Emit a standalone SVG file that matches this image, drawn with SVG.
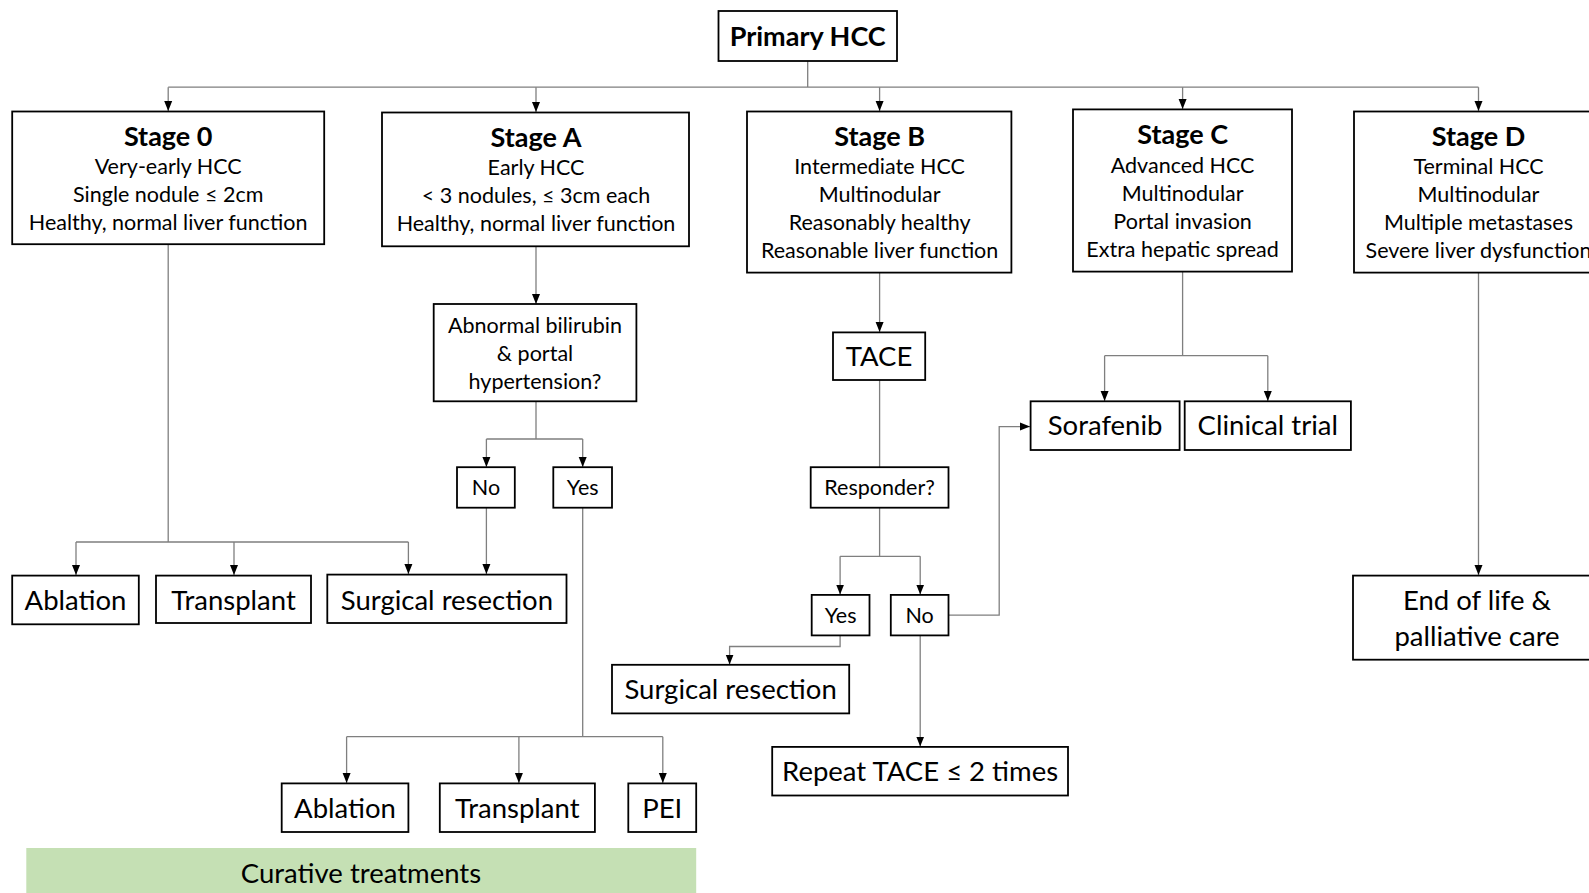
<svg xmlns="http://www.w3.org/2000/svg" width="1589" height="893" viewBox="0 0 1589 893">
<defs>
<marker id="ah" markerUnits="userSpaceOnUse" markerWidth="11" markerHeight="11" refX="10" refY="5.5" orient="auto">
<path d="M0,1.5 L10,5.5 L0,9.5 Z" fill="#000"/>
</marker>
<style>
.box{fill:#fff;stroke:#000;stroke-width:1.8}
.t{font-family:Lato,"Open Sans","Liberation Sans",sans-serif;fill:#000;text-anchor:middle}
.s{font-size:21.5px}
.m{font-size:27.5px}
.h{font-size:27px;font-weight:bold}
.c{fill:none;stroke:#7f7f7f;stroke-width:1.3}
.a{marker-end:url(#ah)}
</style>
</defs>
<rect width="1589" height="893" fill="#fff"/>
<g id="connectors">
<path class="c" d="M807.7,61 V87.2 M168.2,87.2 H1478.5"/>
<path class="c a" d="M168.2,87.2 V111"/>
<path class="c a" d="M536,87.2 V112"/>
<path class="c a" d="M879.6,87.2 V111"/>
<path class="c a" d="M1182.6,87.2 V109"/>
<path class="c a" d="M1478.5,87.2 V111"/>
<path class="c" d="M168.2,244 V542 M76,542 H408.4"/>
<path class="c a" d="M76,542 V575"/>
<path class="c a" d="M234,542 V575"/>
<path class="c a" d="M408.4,542 V574"/>
<path class="c a" d="M536,246 V304"/>
<path class="c" d="M536,401 V439 M486.4,439 H582.7"/>
<path class="c a" d="M486.4,439 V467"/>
<path class="c a" d="M582.7,439 V467"/>
<path class="c a" d="M486.4,508 V574"/>
<path class="c" d="M582.7,508 V736.7 M346.6,736.7 H662.8"/>
<path class="c a" d="M346.6,736.7 V783"/>
<path class="c a" d="M518.9,736.7 V783"/>
<path class="c a" d="M662.8,736.7 V783"/>
<path class="c a" d="M879.6,272.6 V332"/>
<path class="c" d="M879.6,380 V467 M879.6,508 V556.3 M840.1,556.3 H920.2"/>
<path class="c a" d="M840.1,556.3 V594.5"/>
<path class="c a" d="M920.2,556.3 V594.5"/>
<path class="c a" d="M948.5,615.1 H999.2 V426.6 H1030"/>
<path class="c a" d="M840.1,635.4 V646.5 H729.6 V664.5"/>
<path class="c a" d="M920.2,635.4 V746.5"/>
<path class="c" d="M1182.6,271.6 V355.7 M1104.6,355.7 H1267.8"/>
<path class="c a" d="M1104.6,355.7 V401"/>
<path class="c a" d="M1267.8,355.7 V401"/>
<path class="c a" d="M1478.5,272.6 V575"/>
</g>
<g id="primary">
<rect class="box" x="718.5" y="11" width="178.5" height="50"/>
<text class="t h" x="807.7" y="46">Primary HCC</text>
</g>
<g id="stage0">
<rect class="box" x="12.2" y="111.5" width="312" height="132.7"/>
<text class="t h" x="168.2" y="146">Stage 0</text>
<text class="t s" x="168.2" y="174">Very-early HCC</text>
<text class="t s" x="168.2" y="202">Single nodule ≤ 2cm</text>
<text class="t s" x="168.2" y="230">Healthy, normal liver function</text>
</g>
<g id="stageA">
<rect class="box" x="382" y="112.5" width="307" height="133.8"/>
<text class="t h" x="536" y="147">Stage A</text>
<text class="t s" x="536" y="175">Early HCC</text>
<text class="t s" x="536" y="203">&lt; 3 nodules, ≤ 3cm each</text>
<text class="t s" x="536" y="231">Healthy, normal liver function</text>
</g>
<g id="stageB">
<rect class="box" x="747" y="111.5" width="264.4" height="161.1"/>
<text class="t h" x="879.6" y="146">Stage B</text>
<text class="t s" x="879.6" y="174">Intermediate HCC</text>
<text class="t s" x="879.6" y="202">Multinodular</text>
<text class="t s" x="879.6" y="230">Reasonably healthy</text>
<text class="t s" x="879.6" y="258">Reasonable liver function</text>
</g>
<g id="stageC">
<rect class="box" x="1073" y="109.4" width="219" height="162.2"/>
<text class="t h" x="1182.6" y="144">Stage C</text>
<text class="t s" x="1182.6" y="173">Advanced HCC</text>
<text class="t s" x="1182.6" y="201">Multinodular</text>
<text class="t s" x="1182.6" y="229">Portal invasion</text>
<text class="t s" x="1182.6" y="257">Extra hepatic spread</text>
</g>
<g id="stageD">
<rect class="box" x="1354" y="111.5" width="245" height="161.1"/>
<text class="t h" x="1478.5" y="146">Stage D</text>
<text class="t s" x="1478.5" y="174">Terminal HCC</text>
<text class="t s" x="1478.5" y="202">Multinodular</text>
<text class="t s" x="1478.5" y="230">Multiple metastases</text>
<text class="t s" x="1478.5" y="258">Severe liver dysfunction</text>
</g>
<g id="ablation1">
<rect class="box" x="12.2" y="575.6" width="126.6" height="48.7"/>
<text class="t m" x="75.5" y="610">Ablation</text>
</g>
<g id="transplant1">
<rect class="box" x="156" y="575.6" width="155" height="47.4"/>
<text class="t m" x="233.5" y="610">Transplant</text>
</g>
<g id="resection1">
<rect class="box" x="327.3" y="574.6" width="239.2" height="48.4"/>
<text class="t m" x="446.9" y="610">Surgical resection</text>
</g>
<g id="bilirubin">
<rect class="box" x="433.7" y="304" width="202.7" height="97.3"/>
<text class="t s" x="535" y="333">Abnormal bilirubin</text>
<text class="t s" x="535" y="361">&amp; portal</text>
<text class="t s" x="535" y="389">hypertension?</text>
</g>
<g id="noA">
<rect class="box" x="457" y="467.2" width="57.8" height="40.5"/>
<text class="t s" x="486" y="495">No</text>
</g>
<g id="yesA">
<rect class="box" x="553.3" y="467.2" width="58.7" height="40.5"/>
<text class="t s" x="582.7" y="495">Yes</text>
</g>
<g id="ablation2">
<rect class="box" x="281.7" y="783.4" width="126.7" height="48.6"/>
<text class="t m" x="345" y="818">Ablation</text>
</g>
<g id="transplant2">
<rect class="box" x="439.8" y="783.4" width="155.1" height="48.6"/>
<text class="t m" x="517.3" y="818">Transplant</text>
</g>
<g id="pei">
<rect class="box" x="628.3" y="783.4" width="67.9" height="48.6"/>
<text class="t m" x="662.2" y="818">PEI</text>
</g>
<g id="curative">
<rect x="26.3" y="848" width="669.9" height="45" fill="#c5e0b4"/>
<text class="t m" x="361" y="883">Curative treatments</text>
</g>
<g id="tace">
<rect class="box" x="833" y="332.4" width="92.2" height="47.6"/>
<text class="t m" x="879" y="366">TACE</text>
</g>
<g id="responder">
<rect class="box" x="810.7" y="467.2" width="137.8" height="40.5"/>
<text class="t s" x="879.6" y="495">Responder?</text>
</g>
<g id="yesB">
<rect class="box" x="811.7" y="594.9" width="57.8" height="40.5"/>
<text class="t s" x="840.6" y="623">Yes</text>
</g>
<g id="noB">
<rect class="box" x="890.8" y="594.9" width="57.7" height="40.5"/>
<text class="t s" x="919.6" y="623">No</text>
</g>
<g id="resection2">
<rect class="box" x="612" y="664.8" width="237.2" height="48.6"/>
<text class="t m" x="730.6" y="699">Surgical resection</text>
</g>
<g id="repeat">
<rect class="box" x="772.2" y="746.9" width="295.8" height="48.6"/>
<text class="t m" x="920.1" y="781">Repeat TACE ≤ 2 times</text>
</g>
<g id="sorafenib">
<rect class="box" x="1030.6" y="401.3" width="149" height="48.7"/>
<text class="t m" x="1105.1" y="435">Sorafenib</text>
</g>
<g id="trial">
<rect class="box" x="1184.7" y="401.3" width="166.2" height="48.7"/>
<text class="t m" x="1267.8" y="435">Clinical trial</text>
</g>
<g id="endoflife">
<rect class="box" x="1353" y="575.6" width="246" height="84.1"/>
<text class="t m" x="1477" y="610">End of life &amp;</text>
<text class="t m" x="1477" y="646">palliative care</text>
</g>
</svg>
